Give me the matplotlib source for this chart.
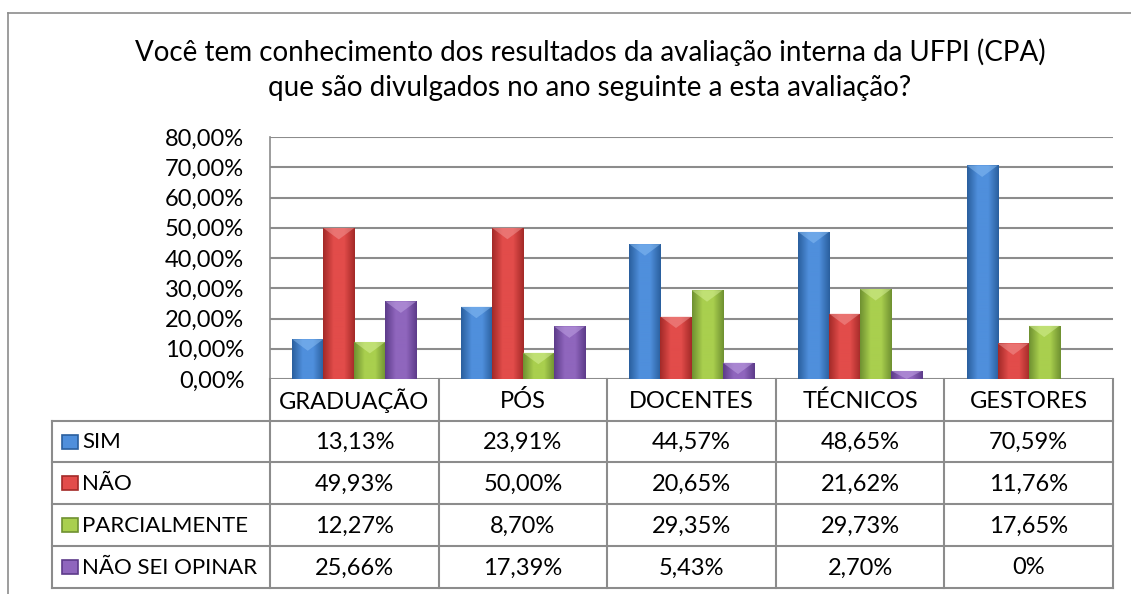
import matplotlib.pyplot as plt
import numpy as np
from matplotlib.colors import LinearSegmentedColormap
from matplotlib.patches import Polygon

plt.rcParams['font.family'] = ['Lato', 'DejaVu Sans']

# data
categories = ['GRADUAÇÃO', 'PÓS', 'DOCENTES', 'TÉCNICOS', 'GESTORES']
series = ['SIM', 'NÃO', 'PARCIALMENTE', 'NÃO SEI OPINAR']
sim = [13.13, 23.91, 44.57, 48.65, 70.59]
nao = [49.93, 50.00, 20.65, 21.62, 11.76]
parcial = [12.27, 8.70, 29.35, 29.73, 17.65]
nao_sei = [25.66, 17.39, 5.43, 2.70, 0]
values = [sim, nao, parcial, nao_sei]
yticks = [0, 10, 20, 30, 40, 50, 60, 70, 80]

# colours: (edge dark, centre light)
colors = [('#2a5f9e', '#4f8fdc'), ('#a32a28', '#e24c4a'),
          ('#6f9131', '#a9cf4e'), ('#5d3b8a', '#8f66bd')]
bevel = ['#8cc0f5', '#f29a98', '#d8f29a', '#c3a6e6']

W, H = 1131, 594
fig = plt.figure(figsize=(W / 100, H / 100), dpi=100)

def px(x0, y0, x1, y1):
    # pixel box -> figure fraction rect
    return [x0 / W, 1 - y1 / H, (x1 - x0) / W, (y1 - y0) / H]

# outer frame
frame = fig.add_axes([0, 0, 1, 1])
frame.set_xlim(0, W)
frame.set_ylim(H, 0)
frame.axis('off')
frame.plot([8, W], [13, 13], color='#8c8c8c', lw=1.2)
frame.plot([8, 8], [13, H], color='#8c8c8c', lw=1.2)

fig.text(590 / W, 1 - 52 / H, 'Você tem conhecimento dos resultados da avaliação interna da UFPI (CPA)',
         ha='center', va='center', fontsize=20, color='black')
fig.text(590 / W, 1 - 88 / H, 'que são divulgados no ano seguinte a esta avaliação?',
         ha='center', va='center', fontsize=20, color='black')

# chart area
left, right, top, base = 270, 1113, 137, 379
ax = fig.add_axes(px(left, top, right, base))
n = len(categories)
ax.set_xlim(0, n)
ax.set_ylim(0, 80)
ax.set_yticks(yticks)
ax.set_yticklabels([('%.2f%%' % t).replace('.', ',') for t in yticks])
ax.tick_params(axis='y', length=0, pad=18.5, labelsize=17)
ax.set_xticks([])
for s in ['top', 'right', 'bottom']:
    ax.spines[s].set_visible(False)
ax.spines['left'].set_color('#8c8c8c')
ax.spines['left'].set_linewidth(1.2)
ax.grid(axis='y', color='#8c8c8c', lw=1.5)
ax.set_axisbelow(True)

bw = 0.184
x = np.arange(n) + 0.5
for i, vals in enumerate(values):
    cmap = LinearSegmentedColormap.from_list('g%d' % i, [colors[i][0], colors[i][1], colors[i][1], colors[i][0]])
    grad = np.linspace(0, 1, 64).reshape(1, -1)
    xs = x + (i - 1.5) * bw
    bars = ax.bar(xs, vals, bw, color=colors[i][1], edgecolor='#3a3a3a', lw=0.6, zorder=2)
    for b, v in zip(bars, vals):
        if v <= 0:
            continue
        x0 = b.get_x()
        im = ax.imshow(grad, cmap=cmap, extent=[x0, x0 + bw, 0, v], aspect='auto', zorder=2.5)
        im.set_clip_path(b)
        d = min(3.8, v)
        tri = Polygon([[x0, v], [x0 + bw, v], [x0 + bw / 2, v - d]], closed=True,
                      facecolor=bevel[i], alpha=0.5, lw=0, zorder=3)
        ax.add_patch(tri)
ax.set_xlim(0, n)
ax.set_ylim(0, 80)

# data table
tab = fig.add_axes([0, 0, 1, 1], facecolor='none')
tab.set_xlim(0, W)
tab.set_ylim(H, 0)
tab.axis('off')
lc = '#8c8c8c'
legl = 52
colw = (right - left) / n
rows = [base, 421, 462, 504, 546, 588]
for k in range(n + 1):
    tab.plot([left + k * colw] * 2, [base, rows[-1]], color=lc, lw=1.5)
tab.plot([legl, legl], [rows[1], rows[-1]], color=lc, lw=1.5)
for r in rows[1:]:
    tab.plot([legl, right], [r, r], color=lc, lw=1.5)
for k, c in enumerate(categories):
    tab.text(left + (k + 0.5) * colw, (rows[0] + rows[1]) / 2 + 1, c, ha='center', va='center', fontsize=17)
for i, s in enumerate(series):
    yc = (rows[i + 1] + rows[i + 2]) / 2
    tab.add_patch(plt.Rectangle((62, yc - 7), 16, 14, facecolor=colors[i][1],
                                edgecolor=colors[i][0], lw=1.2))
    tab.text(82, yc + 1, s, ha='left', va='center', fontsize=16)
    for k, v in enumerate(values[i]):
        lab = '0%' if v == 0 else ('%.2f%%' % v).replace('.', ',')
        tab.text(left + (k + 0.5) * colw, yc + 1, lab, ha='center', va='center', fontsize=17)

fig.savefig('out.png', dpi=100)
